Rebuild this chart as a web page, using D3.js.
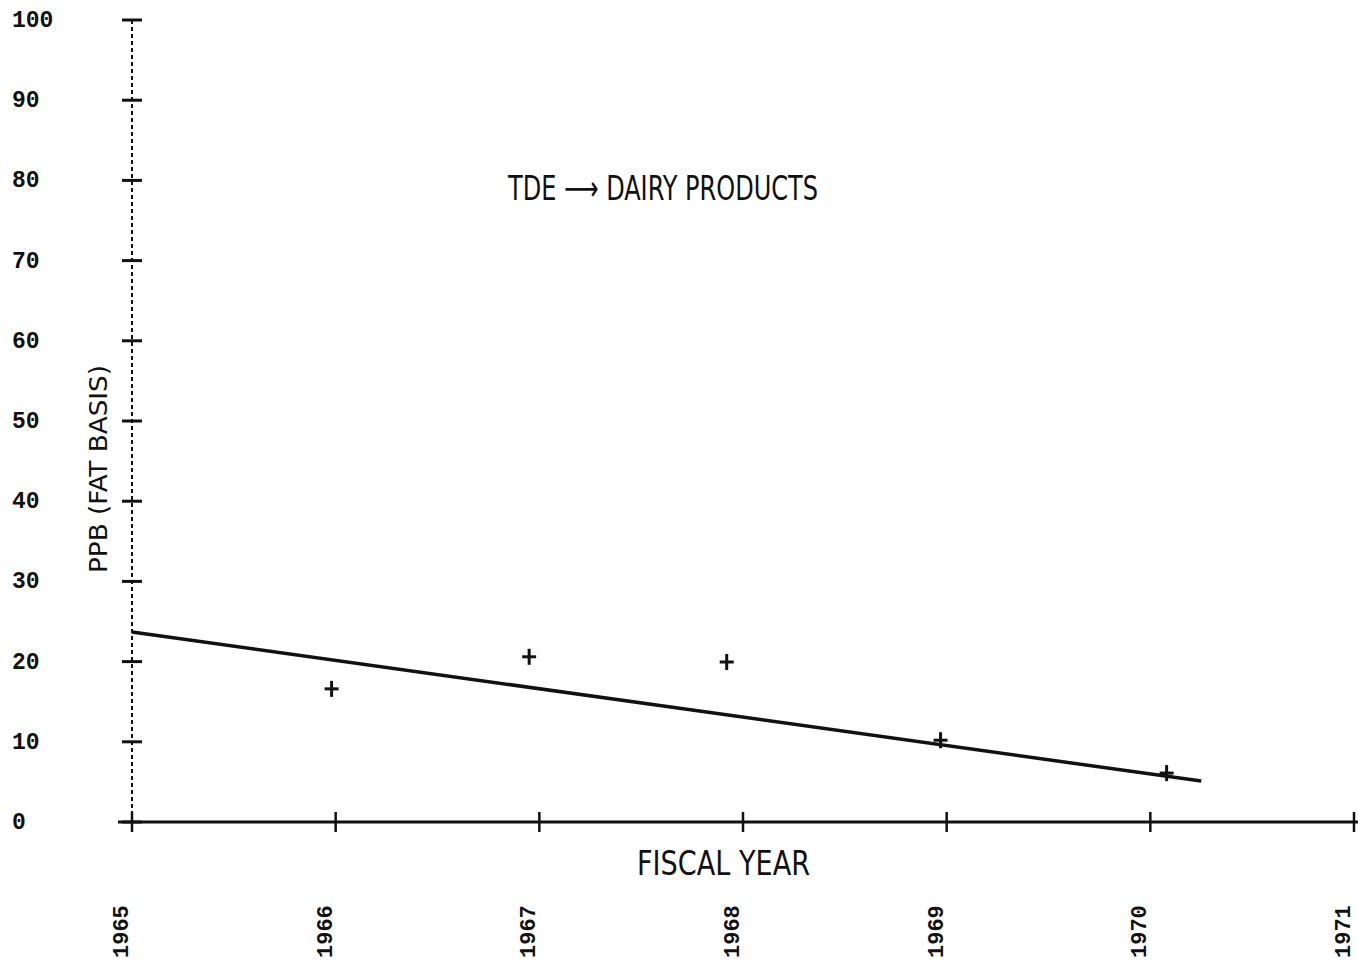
<!DOCTYPE html>
<html><head><meta charset="utf-8">
<script src="https://cdn.jsdelivr.net/npm/d3@7"></script>
<style>body{margin:0;background:#fff}svg{display:block}</style>
</head><body>
<svg id="c" width="1358" height="965"></svg>
<script>
const yearTicks = [1965, 1966, 1967, 1968, 1969, 1970, 1971];
const yTicks = [0, 10, 20, 30, 40, 50, 60, 70, 80, 90, 100];
const pointYears = [1965.98, 1966.95, 1967.92, 1968.97, 1970.08];
const pointValues = [16.6, 20.6, 19.95, 10.2, 6.1];
const trendYears = [1965, 1970.25];
const trendValues = [23.7, 5.1];
const title = "TDE \u27F6 DAIRY  PRODUCTS";
const xTitle = "FISCAL  YEAR";
const yTitle = "PPB  (FAT  BASIS)";

const svg = d3.select("#c");
const x = d3.scaleLinear().domain([1965, 1971]).range([132, 1354]);
const y = d3.scaleLinear().domain([0, 100]).range([822, 20]);
const ink = "#111";
const mono = "'Liberation Mono','DejaVu Sans Mono',monospace";
const narrow = "'Liberation Sans Narrow','DejaVu Sans Condensed','Liberation Sans',sans-serif";

// Y axis (dotted) with cross ticks
svg.append("line").attr("x1", x(1965)).attr("x2", x(1965)).attr("y1", y(100)).attr("y2", y(0))
  .attr("stroke", ink).attr("stroke-width", 2).attr("stroke-dasharray", "4,3");
svg.selectAll(".yt").data(yTicks).enter().append("line")
  .attr("x1", x(1965) - 10).attr("x2", x(1965) + 10)
  .attr("y1", d => y(d)).attr("y2", d => y(d))
  .attr("stroke", ink).attr("stroke-width", 3);
svg.selectAll(".ytl").data(yTicks).enter().append("text")
  .attr("x", 12).attr("y", d => y(d)).attr("dy", "0.3em")
  .attr("font-family", mono).attr("font-weight", "bold").attr("font-size", 23)
  .attr("fill", ink).text(d => d);

// X axis (solid)
svg.append("line").attr("x1", 118).attr("x2", 1358).attr("y1", y(0)).attr("y2", y(0))
  .attr("stroke", ink).attr("stroke-width", 3);
svg.selectAll(".xt").data(yearTicks).enter().append("line")
  .attr("x1", d => x(d)).attr("x2", d => x(d))
  .attr("y1", y(0) - 10).attr("y2", y(0) + 10)
  .attr("stroke", ink).attr("stroke-width", 2.5);
svg.selectAll(".xtl").data(yearTicks).enter().append("text")
  .attr("transform", d => `translate(${x(d) - 4},958) rotate(-90)`)
  .attr("font-family", mono).attr("font-weight", "bold").attr("font-size", 22)
  .attr("fill", ink).text(d => d);

// Trend line
const line = d3.line().x(d => x(d[0])).y(d => y(d[1]));
svg.append("path").datum(trendYears.map((t, i) => [t, trendValues[i]]))
  .attr("d", line).attr("fill", "none").attr("stroke", ink).attr("stroke-width", 3.5);

// Plus markers
const pts = pointYears.map((t, i) => [t, pointValues[i]]);
const g = svg.selectAll(".pt").data(pts).enter().append("g")
  .attr("transform", d => `translate(${x(d[0])},${y(d[1])})`);
g.append("line").attr("x1", -7).attr("x2", 7).attr("stroke", ink).attr("stroke-width", 3);
g.append("line").attr("y1", -8).attr("y2", 8).attr("stroke", ink).attr("stroke-width", 3);

// Titles
svg.append("text").attr("x", 508).attr("y", 200)
  .attr("font-family", narrow).attr("font-size", 34).attr("fill", ink)
  .attr("textLength", 310).attr("lengthAdjust", "spacingAndGlyphs").text(title);
svg.append("text").attr("x", 637).attr("y", 875)
  .attr("font-family", narrow).attr("font-size", 34).attr("fill", ink)
  .attr("textLength", 173).attr("lengthAdjust", "spacingAndGlyphs").text(xTitle);
svg.append("text").attr("transform", "translate(107,573) rotate(-90)")
  .attr("font-family", narrow).attr("font-size", 24).attr("fill", ink)
  .attr("textLength", 208).attr("lengthAdjust", "spacingAndGlyphs").text(yTitle);
</script>
</body></html>
